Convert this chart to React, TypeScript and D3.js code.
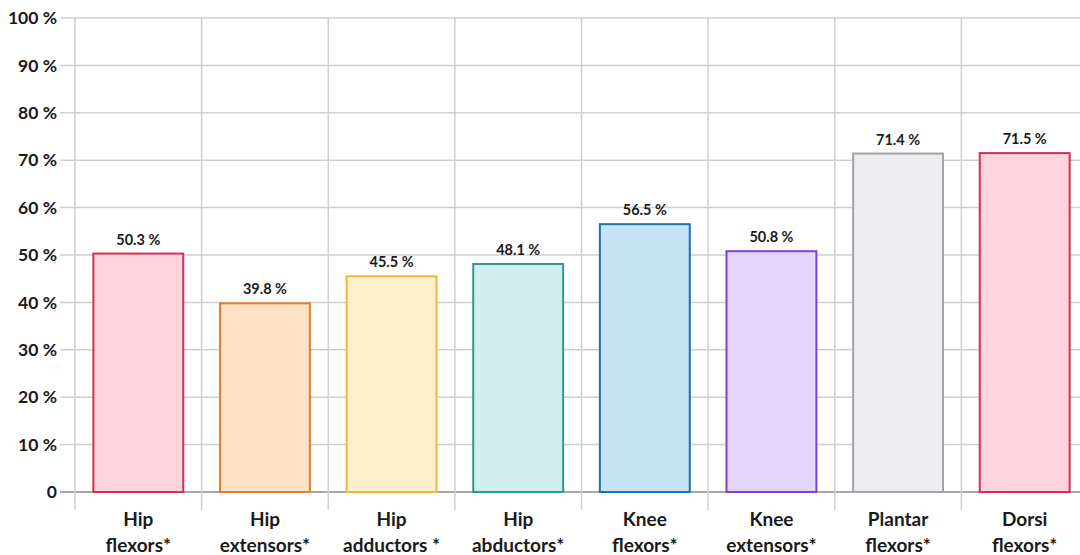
import React from "react";
import * as d3 from "d3";

const categories = ["Hip flexors*", "Hip extensors*", "Hip adductors *", "Hip abductors*", "Knee flexors*", "Knee extensors*", "Plantar flexors*", "Dorsi flexors*"];
const labelLine1 = ["Hip", "Hip", "Hip", "Hip", "Knee", "Knee", "Plantar", "Dorsi"];
const labelLine2 = ["flexors*", "extensors*", "adductors *", "abductors*", "flexors*", "extensors*", "flexors*", "flexors*"];
const values = [50.3, 39.8, 45.5, 48.1, 56.5, 50.8, 71.4, 71.5];
const valueLabels = ["50.3 %", "39.8 %", "45.5 %", "48.1 %", "56.5 %", "50.8 %", "71.4 %", "71.5 %"];
const yTicks = [0, 10, 20, 30, 40, 50, 60, 70, 80, 90, 100];
const yTickLabels = ["0", "10 %", "20 %", "30 %", "40 %", "50 %", "60 %", "70 %", "80 %", "90 %", "100 %"];
const fills = ["#fdd3dd", "#fde2c6", "#fdf0cb", "#cfeeec", "#c7e3f6", "#e4d5fb", "#ececf1", "#fdd3dd"];
const strokes = ["#d42f58", "#e27d2c", "#f0b63c", "#2b9a8f", "#1c6fb6", "#7c42d4", "#a3a3a3", "#d42f58"];

export default function App() {
  const W = 1080, H = 555;
  const x0 = 75, x1 = 1088;
  const y = d3.scaleLinear().domain([0, 100]).range([492, 18]);
  const xb = d3.scaleBand<string>().domain(categories).range([x0, x1]).paddingInner(0.29).paddingOuter(0.145);
  const xc = d3.scaleBand<string>().domain(categories).range([x0, x1]).padding(0);
  const font = "Lato, 'Open Sans', sans-serif";
  return (
    <svg width={W} height={H} style={{ position: "absolute", left: 0, top: 0, background: "#fff" }} fontFamily={font}>
      {yTicks.map((t) => (
        <line key={"h" + t} x1={60} x2={W} y1={y(t)} y2={y(t)} stroke={t === 0 ? "#a8a8a8" : "#cfcfcf"} strokeWidth={t === 0 ? 2 : 1.5} />
      ))}
      {categories.map((c) => (
        <line key={"v" + c} x1={xc(c)!} x2={xc(c)!} y1={y(100)} y2={510} stroke="#cfcfcf" strokeWidth={1.5} />
      ))}
      {categories.map((c, i) => (
        <rect key={"b" + c} x={xb(c)!} y={y(values[i])} width={xb.bandwidth()} height={y(0) - y(values[i])} fill={fills[i]} stroke={strokes[i]} strokeWidth={2} />
      ))}
      {categories.map((c, i) => (
        <text key={"l" + c} x={xb(c)! + xb.bandwidth() / 2} y={y(values[i]) - 9} textAnchor="middle" fontSize={14.5} fontWeight="bold" fill="#1a1a1a">{valueLabels[i]}</text>
      ))}
      {yTicks.map((t, i) => (
        <text key={"t" + t} x={57} y={y(t)} dy="0.35em" textAnchor="end" fontSize={17.5} fontWeight="bold" fill="#1a1a1a">{yTickLabels[i]}</text>
      ))}
      {categories.map((c, i) => (
        <text key={"c" + c} x={xb(c)! + xb.bandwidth() / 2} textAnchor="middle" fontSize={19} fontWeight="bold" fill="#1a1a1a">
          <tspan x={xb(c)! + xb.bandwidth() / 2} y={526}>{labelLine1[i]}</tspan>
          <tspan x={xb(c)! + xb.bandwidth() / 2} y={552}>{labelLine2[i]}</tspan>
        </text>
      ))}
    </svg>
  );
}
